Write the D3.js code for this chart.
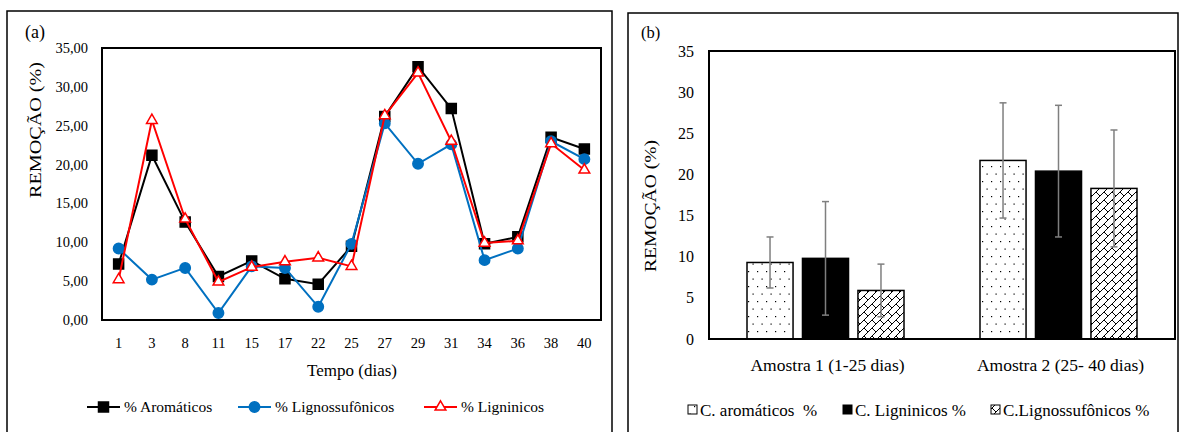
<!DOCTYPE html>
<html>
<head>
<meta charset="utf-8">
<script src="https://cdn.jsdelivr.net/npm/d3@7"></script>
<style>
  body { margin: 0; background: #fff; }
  svg text { font-family: "Liberation Serif", "Times New Roman", serif; fill: #000; }
</style>
</head>
<body>
<svg id="chart" width="1179" height="432"></svg>
<script>
// ---- panel (a) data ----
const days = ['1', '3', '8', '11', '15', '17', '22', '25', '27', '29', '31', '34', '36', '38', '40'];
const aromaticos = [7.2, 21.2, 12.6, 5.6, 7.6, 5.3, 4.6, 9.5, 26.2, 32.6, 27.2, 9.8, 10.7, 23.5, 22.0];
const lignossulfonicos = [9.2, 5.2, 6.7, 0.9, 6.9, 6.7, 1.7, 9.8, 25.3, 20.1, 22.6, 7.7, 9.2, 23.0, 20.7];
const ligninicos = [5.2, 25.7, 13.0, 4.9, 6.8, 7.5, 8.0, 6.9, 26.3, 31.8, 23.0, 9.9, 10.2, 22.7, 19.3];
const ticksA = [0, 5, 10, 15, 20, 25, 30, 35];

// ---- panel (b) data ----
const amostras = ['Amostra 1 (1-25 dias)', 'Amostra 2 (25- 40 dias)'];
const barSeries = ['C. aromáticos  %', 'C. Ligninicos %', 'C.Lignossufônicos %'];
const barMeans = [[9.3, 9.8, 5.9], [21.7, 20.4, 18.3]];
const barErrors = [[3.1, 6.9, 3.2], [7.0, 8.0, 7.1]];
const ticksB = [0, 5, 10, 15, 20, 25, 30, 35];

const svg = d3.select('#chart');

// patterns for the bars
const defs = svg.append('defs');
const dots = defs.append('pattern').attr('id', 'dots')
  .attr('patternUnits', 'userSpaceOnUse').attr('width', 9).attr('height', 15);
dots.append('rect').attr('width', 9).attr('height', 15).attr('fill', '#fff');
dots.append('rect').attr('x', 1).attr('y', 1).attr('width', 1.2).attr('height', 1.2).attr('fill', '#000');
dots.append('rect').attr('x', 5.5).attr('y', 8.5).attr('width', 1.2).attr('height', 1.2).attr('fill', '#000');

const brick = defs.append('pattern').attr('id', 'brick')
  .attr('patternUnits', 'userSpaceOnUse').attr('width', 8).attr('height', 8);
brick.append('rect').attr('width', 8).attr('height', 8).attr('fill', '#fff');
brick.append('path').attr('d', 'M-1,9 L9,-1 M0,0 L4,4')
  .attr('stroke', '#000').attr('stroke-width', 1).attr('fill', 'none');

const barFills = ['url(#dots)', '#000', 'url(#brick)'];

// panel frames
svg.append('rect').attr('x', 7).attr('y', 11).attr('width', 605).attr('height', 440)
  .attr('fill', 'none').attr('stroke', '#000').attr('stroke-width', 1.5);
svg.append('rect').attr('x', 628).attr('y', 13).attr('width', 550).attr('height', 440)
  .attr('fill', 'none').attr('stroke', '#000').attr('stroke-width', 1.5);

// =================== panel (a) ===================
const A = { left: 102, right: 601, top: 48, bottom: 320 };
const xA = d3.scaleBand().domain(days).range([A.left, A.right]);
const yA = d3.scaleLinear().domain([0, 35]).range([A.bottom, A.top]);
const gA = svg.append('g');

gA.append('text').attr('x', 25).attr('y', 38).attr('font-size', 18).text('(a)');

gA.selectAll('.ytA').data(ticksA).enter().append('text')
  .attr('x', 88).attr('y', d => yA(d) + 5).attr('text-anchor', 'end')
  .attr('font-size', 14.5).text(d => d3.format('.2f')(d).replace('.', ','));

gA.selectAll('.xtA').data(days).enter().append('text')
  .attr('x', d => xA(d) + xA.bandwidth() / 2).attr('y', 348).attr('text-anchor', 'middle')
  .attr('font-size', 14.5).text(d => d);

gA.append('text').attr('x', 352).attr('y', 376).attr('text-anchor', 'middle')
  .attr('font-size', 17).text('Tempo (dias)');

gA.append('text').attr('transform', 'translate(41,130) rotate(-90)')
  .attr('text-anchor', 'middle').attr('font-size', 17)
  .attr('textLength', 136).attr('lengthAdjust', 'spacingAndGlyphs').text('REMOÇÃO (%)');

gA.append('rect').attr('x', A.left).attr('y', A.top)
  .attr('width', A.right - A.left).attr('height', A.bottom - A.top)
  .attr('fill', 'none').attr('stroke', '#000').attr('stroke-width', 2);

const seriesA = [
  { name: '% Aromáticos', values: aromaticos, color: '#000000', symbol: d3.symbolSquare, size: 100, fill: '#000000' },
  { name: '% Lignossufônicos', values: lignossulfonicos, color: '#0070C0', symbol: d3.symbolCircle, size: 85, fill: '#0070C0' },
  { name: '% Ligninicos', values: ligninicos, color: '#FF0000', symbol: d3.symbolTriangle, size: 50, fill: '#ffffff' }
];
const cx = (d, i) => xA(days[i]) + xA.bandwidth() / 2;
const line = d3.line().x(cx).y(d => yA(d));

seriesA.forEach(s => {
  gA.append('path').datum(s.values)
    .attr('d', line).attr('fill', 'none')
    .attr('stroke', s.color).attr('stroke-width', 2);
  gA.selectAll(null).data(s.values).enter().append('path')
    .attr('d', d3.symbol().type(s.symbol).size(s.size))
    .attr('transform', (d, i) => `translate(${cx(d, i)},${yA(d)})`)
    .attr('fill', s.fill).attr('stroke', s.color).attr('stroke-width', 1.5);
});

// legend (a)
const legA = [87, 238, 424];
seriesA.forEach((s, i) => {
  const lx = legA[i], ly = 407;
  gA.append('line').attr('x1', lx).attr('x2', lx + 33).attr('y1', ly).attr('y2', ly)
    .attr('stroke', s.color).attr('stroke-width', 2);
  gA.append('path').attr('d', d3.symbol().type(s.symbol).size(s.size))
    .attr('transform', `translate(${lx + 16.5},${ly})`)
    .attr('fill', s.fill).attr('stroke', s.color).attr('stroke-width', 1.5);
  gA.append('text').attr('x', lx + 37).attr('y', ly + 5).attr('font-size', 15.5).text(s.name);
});

// =================== panel (b) ===================
const B = { left: 709, right: 1175, top: 51, bottom: 339 };
const x0 = d3.scaleBand().domain(amostras).range([B.left, B.right]).paddingInner(0).paddingOuter(0);
const x1 = d3.scaleBand().domain(barSeries).range([38, x0.bandwidth() - 38]).paddingInner(0.17).paddingOuter(0);
const yB = d3.scaleLinear().domain([0, 35]).range([B.bottom, B.top]);
const gB = svg.append('g');

gB.append('text').attr('x', 641).attr('y', 38).attr('font-size', 16.5).text('(b)');

gB.selectAll('.ytB').data(ticksB).enter().append('text')
  .attr('x', 694).attr('y', d => yB(d) + 5.5).attr('text-anchor', 'end')
  .attr('font-size', 16).text(d => d);

gB.append('text').attr('transform', 'translate(656,206) rotate(-90)')
  .attr('text-anchor', 'middle').attr('font-size', 17)
  .attr('textLength', 132).attr('lengthAdjust', 'spacingAndGlyphs').text('REMOÇÃO (%)');

amostras.forEach((a, gi) => {
  const gx = x0(a);
  gB.append('text').attr('x', gx + x0.bandwidth() / 2 + 2).attr('y', 371)
    .attr('text-anchor', 'middle').attr('font-size', 17.5).text(a);
  barSeries.forEach((s, si) => {
    const v = barMeans[gi][si], e = barErrors[gi][si];
    const bx = gx + x1(s), bw = x1.bandwidth();
    gB.append('rect').attr('x', bx).attr('y', yB(v))
      .attr('width', bw).attr('height', yB(0) - yB(v))
      .attr('fill', barFills[si]).attr('stroke', '#000').attr('stroke-width', 1.5);
    const ex = bx + bw / 2;
    gB.append('line').attr('x1', ex).attr('x2', ex).attr('y1', yB(v + e)).attr('y2', yB(v - e))
      .attr('stroke', '#7f7f7f').attr('stroke-width', 1.5);
    [v + e, v - e].forEach(t => {
      gB.append('line').attr('x1', ex - 3.5).attr('x2', ex + 3.5).attr('y1', yB(t)).attr('y2', yB(t))
        .attr('stroke', '#7f7f7f').attr('stroke-width', 1.5);
    });
  });
});

gB.append('rect').attr('x', B.left).attr('y', B.top)
  .attr('width', B.right - B.left).attr('height', B.bottom - B.top)
  .attr('fill', 'none').attr('stroke', '#000').attr('stroke-width', 2);

// legend (b)
const legB = [688, 843, 991];
barSeries.forEach((s, i) => {
  const lx = legB[i], ly = 410;
  gB.append('rect').attr('x', lx).attr('y', ly - 5).attr('width', 9).attr('height', 9)
    .attr('fill', barFills[i]).attr('stroke', '#000').attr('stroke-width', 1);
  gB.append('text').attr('x', lx + 12).attr('y', ly + 5.5).attr('font-size', 17)
    .attr('xml:space', 'preserve').style('white-space', 'pre').text(s);
});
</script>
</body>
</html>
